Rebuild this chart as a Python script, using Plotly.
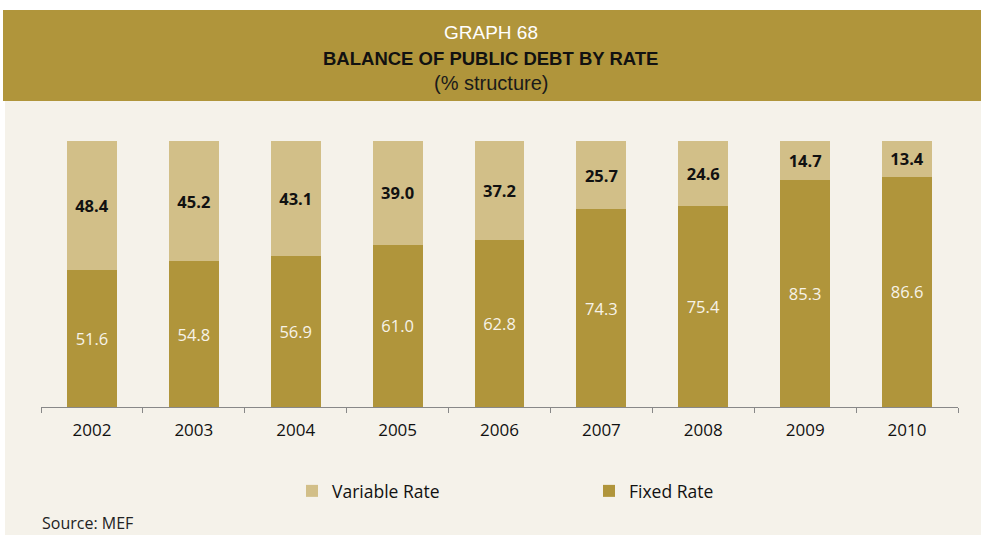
import plotly.graph_objects as go

# Structure of public debt by interest-rate type (% of total)
years = ["2002", "2003", "2004", "2005", "2006", "2007", "2008", "2009", "2010"]
fixed_rate = [51.6, 54.8, 56.9, 61.0, 62.8, 74.3, 75.4, 85.3, 86.6]
variable_rate = [48.4, 45.2, 43.1, 39.0, 37.2, 25.7, 24.6, 14.7, 13.4]

W, H = 981, 535
OLIVE = "#B0953B"
SAND = "#D2BF88"
CREAM = "#F5F2EA"
TEXT_FONT = "Open Sans"


def px_x(p):
    return p / W


def px_y(p):
    return 1 - p / H


fig = go.Figure()

fig.add_trace(go.Bar(
    x=years, y=fixed_rate, name="Fixed Rate",
    marker=dict(color=OLIVE, line=dict(width=0)),
    texttemplate="%{y:.1f}", textposition="inside",
    insidetextanchor="middle", textangle=0,
    textfont=dict(family=TEXT_FONT, size=16.5, color="#F7F3E8"),
    legendrank=2, hoverinfo="skip",
))
fig.add_trace(go.Bar(
    x=years, y=variable_rate, name="Variable Rate",
    marker=dict(color=SAND, line=dict(width=0)),
    texttemplate="<b>%{y:.1f}</b>", textposition="inside",
    insidetextanchor="middle", textangle=0,
    textfont=dict(family=TEXT_FONT, size=16.5, color="#111111"),
    legendrank=1, hoverinfo="skip",
))

shapes = [
    # cream panel
    dict(type="rect", xref="paper", yref="paper", layer="below",
         x0=px_x(5), x1=1, y0=0, y1=px_y(101),
         fillcolor=CREAM, line=dict(width=0)),
    # header band
    dict(type="rect", xref="paper", yref="paper", layer="below",
         x0=px_x(3), x1=1, y0=px_y(101), y1=px_y(10),
         fillcolor=OLIVE, line=dict(width=0)),
]

annotations = [
    dict(text="GRAPH 68", x=0.5, y=px_y(32.5), xref="paper", yref="paper",
         showarrow=False, yanchor="middle",
         font=dict(family="Liberation Sans", size=19, color="#FFFFFF")),
    dict(text="<b>BALANCE OF PUBLIC DEBT BY RATE</b>", x=0.5, y=px_y(58.5),
         xref="paper", yref="paper", showarrow=False, yanchor="middle",
         font=dict(family="Liberation Sans", size=18.5, color="#111111")),
    dict(text="(% structure)", x=0.5, y=px_y(83.5), xref="paper", yref="paper",
         showarrow=False, yanchor="middle",
         font=dict(family="Liberation Sans", size=20, color="#1a1a1a")),
    dict(text="Source: MEF", x=px_x(40), y=0, xref="paper", yref="paper",
         showarrow=False, xanchor="left", yanchor="bottom", yshift=-1,
         font=dict(family=TEXT_FONT, size=16, color="#222222")),
]

fig.update_layout(
    width=W, height=H,
    margin=dict(l=0, r=0, t=0, b=0),
    paper_bgcolor="#FFFFFF",
    plot_bgcolor="rgba(0,0,0,0)",
    barmode="stack",
    bargap=0.51,
    shapes=shapes,
    annotations=annotations,
    uniformtext=dict(minsize=16, mode="show"),
    legend=dict(
        orientation="h", traceorder="normal",
        x=px_x(292), xanchor="left",
        y=px_y(491), yanchor="middle",
        entrywidth=252, entrywidthmode="pixels",
        bgcolor="rgba(0,0,0,0)",
        font=dict(family=TEXT_FONT, size=17.5, color="#111111"),
    ),
    xaxis=dict(
        domain=[px_x(41), px_x(958)],
        type="category", range=[-0.5, 8.5],
        tickson="boundaries", ticks="outside", ticklen=5,
        tickcolor="#888888", tickwidth=1,
        showline=True, linecolor="#888888", linewidth=1,
        showgrid=False, zeroline=False,
        ticklabelstandoff=8,
        tickfont=dict(family=TEXT_FONT, size=17, color="#111111"),
        fixedrange=True,
    ),
    yaxis=dict(
        domain=[px_y(407), px_y(141)],
        range=[0, 100], visible=False, fixedrange=True,
    ),
)

fig.write_html("out.html")
